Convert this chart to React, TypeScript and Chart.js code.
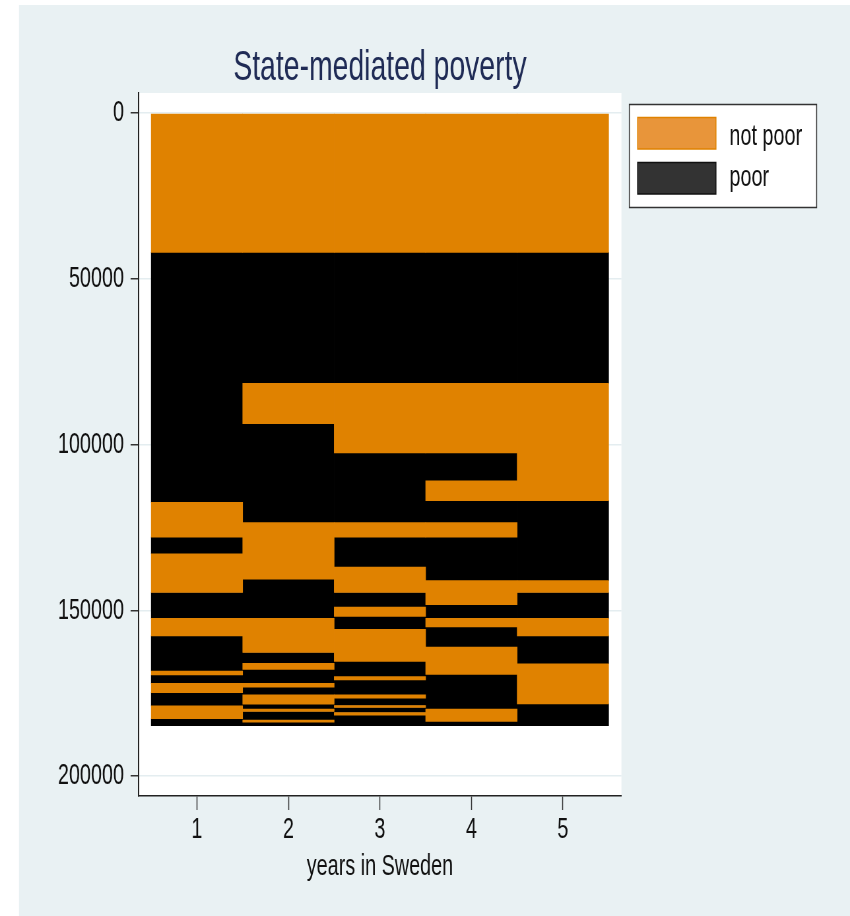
import React, { useEffect, useRef } from 'react';
import { Chart, registerables } from 'chart.js';

Chart.register(...registerables);

// ---------- data ----------
const chartTitle = 'State-mediated poverty';
const xAxisTitle = 'years in Sweden';
const years = [1, 2, 3, 4, 5];
const yTickValues = [0, 50000, 100000, 150000, 200000];
const stateLabels = ['not poor', 'poor'];

// Spell boundaries (sequence index) for each year; spells alternate,
// starting with "not poor".
const year1Breaks = [0, 42000, 117400, 127900, 132900, 144600, 152400, 157700, 168300, 169500, 172000, 174800, 178800, 182700, 184800];
const year2Breaks = [0, 42000, 81500, 93700, 123500, 140600, 152400, 162700, 166000, 167800, 172000, 173200, 175500, 178300, 179800, 180500, 183100, 183700, 184800];
const year3Breaks = [0, 42000, 81500, 102500, 123500, 127900, 136900, 144600, 149000, 151800, 155700, 165400, 170000, 171000, 175500, 176500, 178700, 179300, 180800, 181600, 184800];
const year4Breaks = [0, 42000, 81500, 102500, 110900, 116900, 123500, 127900, 141000, 148300, 152400, 155000, 161100, 169300, 179800, 183500, 184800];
const year5Breaks = [0, 42000, 81500, 116900, 141000, 144600, 152400, 157700, 166100, 178200, 184800];

// ---------- styles ----------
const SX = 0.66; // horizontal squeeze of the picture
const W = Math.round(850 / SX);
const H = 916;
const FONT = '"Liberation Sans", Arial, sans-serif';
const ORANGE = '#e08200';
const BLACK = '#000000';
const BG = '#e9f1f3';
const TEXT = '#111111';

function spells(stateIndex: number) {
  const all = [year1Breaks, year2Breaks, year3Breaks, year4Breaks, year5Breaks];
  const pts: { x: number; y: [number, number] }[] = [];
  all.forEach((b, i) => {
    for (let k = stateIndex; k < b.length - 1; k += 2) {
      pts.push({ x: years[i], y: [b[k], b[k + 1]] });
    }
  });
  return pts;
}

const decor = {
  id: 'decor',
  beforeDraw(chart: any) {
    const { ctx, width, height, chartArea } = chart;
    ctx.save();
    ctx.fillStyle = '#ffffff';
    ctx.fillRect(0, 0, width, height);
    ctx.fillStyle = BG;
    ctx.fillRect(19 / SX, 5, width - 19 / SX, height - 5);
    ctx.fillStyle = '#ffffff';
    ctx.fillRect(chartArea.left, chartArea.top, chartArea.right - chartArea.left, chartArea.bottom - chartArea.top);
    ctx.restore();
  },
  afterDraw(chart: any) {
    const { ctx, chartArea } = chart;
    const cx = (chartArea.left + chartArea.right) / 2;
    ctx.save();
    // title
    ctx.fillStyle = '#1f2b55';
    ctx.font = `43px ${FONT}`;
    ctx.textAlign = 'center';
    ctx.textBaseline = 'alphabetic';
    ctx.fillText(chartTitle, cx, 80);
    // x axis title
    ctx.fillStyle = TEXT;
    ctx.font = `30px ${FONT}`;
    ctx.fillText(xAxisTitle, cx, 875);
    // legend
    const lx = chartArea.right + 12;
    const lr = 816.7 / SX;
    ctx.fillStyle = '#ffffff';
    ctx.fillRect(lx, 104.5, lr - lx, 103);
    ctx.strokeStyle = '#333333';
    ctx.lineWidth = 1.5;
    ctx.strokeRect(lx, 104.5, lr - lx, 103);
    const swX = 637.7 / SX;
    const swW = (716 - 637.7) / SX;
    const rows = [
      { top: 117.5, fill: '#e8953a', stroke: ORANGE, base: 145 },
      { top: 162.5, fill: '#333333', stroke: '#111111', base: 186 },
    ];
    chart.data.datasets.forEach((ds: any, i: number) => {
      const r = rows[i];
      ctx.fillStyle = r.fill;
      ctx.fillRect(swX, r.top, swW, 31.5);
      ctx.strokeStyle = r.stroke;
      ctx.lineWidth = 1.5;
      ctx.strokeRect(swX, r.top, swW, 31.5);
      ctx.fillStyle = TEXT;
      ctx.font = `30px ${FONT}`;
      ctx.textAlign = 'left';
      ctx.fillText(ds.label, 729.5 / SX, r.base);
    });
    ctx.restore();
  },
};

export default function App() {
  const ref = useRef<HTMLCanvasElement | null>(null);
  useEffect(() => {
    if (!ref.current) return;
    const chart = new Chart(ref.current, {
      type: 'bar',
      data: {
        datasets: [
          { label: stateLabels[0], data: spells(0) as any, backgroundColor: ORANGE },
          { label: stateLabels[1], data: spells(1) as any, backgroundColor: BLACK },
        ],
      },
      options: {
        responsive: false,
        maintainAspectRatio: false,
        devicePixelRatio: 1,
        animation: false,
        datasets: {
          bar: {
            grouped: false,
            barPercentage: 1,
            categoryPercentage: 1,
            borderWidth: 0,
            borderSkipped: false,
          },
        } as any,
        layout: { padding: { left: 0, right: W - 621.5 / SX, top: 93, bottom: 0 } },
        plugins: {
          legend: { display: false },
          tooltip: { enabled: false },
          title: { display: false },
        },
        scales: {
          x: {
            type: 'linear',
            offset: false,
            min: 0.361,
            max: 5.64,
            afterBuildTicks: (s: any) => {
              s.ticks = years.map((v) => ({ value: v }));
            },
            afterFit: (s: any) => {
              s.height = 120;
            },
            grid: {
              offset: false,
              drawOnChartArea: false,
              drawTicks: true,
              tickLength: 14,
              tickColor: '#333333',
              tickWidth: 1.5,
            },
            border: { display: true, color: '#222222', width: 1.5 },
            ticks: {
              padding: 2,
              color: TEXT,
              font: { family: FONT, size: 30 },
              maxRotation: 0,
              autoSkip: false,
              callback: (v: any) => String(v),
            },
          },
          y: {
            type: 'linear',
            reverse: true,
            min: -6100,
            max: 206000,
            afterBuildTicks: (s: any) => {
              s.ticks = yTickValues.map((v) => ({ value: v }));
            },
            afterFit: (s: any) => {
              s.width = 138.5 / SX;
            },
            grid: {
              color: '#e4edf0',
              lineWidth: 1.5,
              drawTicks: true,
              tickLength: 12,
              tickColor: '#333333',
              tickWidth: 1.5,
            },
            border: { display: true, color: '#222222', width: 2 },
            ticks: {
              padding: 10,
              color: TEXT,
              font: { family: FONT, size: 30 },
              autoSkip: false,
              callback: (v: any) => String(v),
            },
          },
        },
      } as any,
      plugins: [decor],
    });
    return () => chart.destroy();
  }, []);

  return (
    <div style={{ position: 'absolute', left: 0, top: 0, width: 850, height: 916 }}>
      <canvas
        ref={ref}
        width={W}
        height={H}
        style={{ width: '850px', height: '916px', display: 'block' }}
      />
    </div>
  );
}
